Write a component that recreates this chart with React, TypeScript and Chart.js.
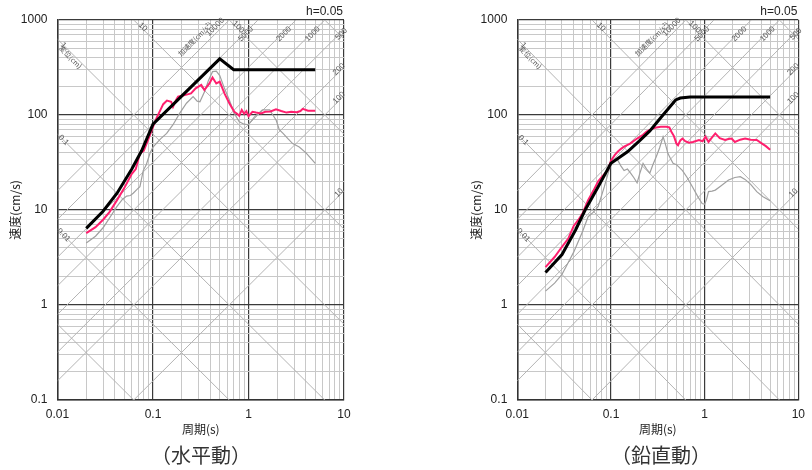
import React, { useEffect, useRef } from 'react';
import { Chart, registerables } from 'chart.js';

Chart.register(...registerables);

// ---- axis ticks ----
const X_DECADES = [0.01, 0.1, 1, 10];
const X_TICK_LABELS = ['0.01', '0.1', '1', '10'];
const Y_DECADES = [0.1, 1, 10, 100, 1000];
const Y_TICK_LABELS = ['0.1', '1', '10', '100', '1000'];

// ---- tripartite guide lines (displacement cm, acceleration cm/s2) ----
const DISP_LINES = [0.001, 0.01, 0.1, 1, 10, 100, 1000];
const ACC_LINES = [10, 100, 200, 500, 1000, 2000, 5000, 10000];
const DISP_LEFT_LABELS = ['1', '0.1', '0.01'];
const DISP_TOP_LABELS = ['10', '100'];
const ACC_TOP_LABELS = ['10000', '5000', '2000', '1000', '500'];
const ACC_RIGHT_LABELS = ['200', '100', '10'];

// ---- 水平動 ----
const H_DESIGN_T = [0.02, 0.03, 0.042, 0.06, 0.076, 0.1, 0.5, 0.7, 5.0];
const H_DESIGN_V = [6.4, 9.7, 15, 27, 42, 80, 390, 300, 300];

const H_OBS_T = [0.02, 0.025, 0.03, 0.035, 0.042, 0.05, 0.06, 0.066, 0.073, 0.08, 0.089, 0.1, 0.11, 0.118, 0.128, 0.14, 0.155, 0.162, 0.175, 0.183, 0.215, 0.25, 0.28, 0.32, 0.345, 0.39, 0.42, 0.46, 0.5, 0.56, 0.63, 0.71, 0.76, 0.8, 0.85, 0.9, 0.95, 1.0, 1.1, 1.2, 1.35, 1.5, 1.7, 1.94, 2.2, 2.5, 2.8, 3.2, 3.5, 3.7, 4.2, 5.0];
const H_OBS_V = [5.7, 6.6, 7.9, 9.5, 12.7, 17, 24, 27, 39.5, 42, 55, 75, 95, 110, 130, 142, 138, 122, 145, 156, 162, 169, 191, 207, 183, 215, 248, 215, 224, 169, 133, 108, 103, 98, 113, 103, 110, 97, 108, 106, 104, 108, 109, 115, 110, 106, 108, 107, 110, 116, 111, 111];

const H_GRAY_T = [0.02, 0.025, 0.03, 0.035, 0.042, 0.048, 0.053, 0.058, 0.062, 0.068, 0.073, 0.079, 0.085, 0.093, 0.1, 0.108, 0.12, 0.139, 0.162, 0.19, 0.224, 0.263, 0.29, 0.31, 0.35, 0.38, 0.42, 0.46, 0.5, 0.55, 0.63, 0.71, 0.8, 0.9, 1.0, 1.15, 1.4, 1.67, 1.8, 1.95, 2.1, 2.3, 2.6, 2.9, 3.4, 4.0, 4.5, 5.0];
const H_GRAY_V = [4.5, 5.3, 6.5, 8.2, 10.9, 13, 14, 14.2, 15, 16.5, 17.6, 26, 30, 39.5, 46, 50, 56, 64, 79, 104, 133, 156, 140, 138, 180, 230, 286, 290, 260, 200, 144, 104, 85, 80, 79, 95, 113, 113, 100, 88, 70, 64, 56, 50, 46, 40, 35, 31];

// ---- 鉛直動 ----
const V_DESIGN_T = [0.02, 0.03, 0.042, 0.053, 0.073, 0.1, 0.15, 0.2, 0.26, 0.35, 0.49, 0.55, 0.7, 5.0];
const V_DESIGN_V = [2.2, 3.4, 6.2, 10, 17.6, 31, 41, 53, 68, 97, 144, 151, 155, 155];

const V_OBS_T = [0.02, 0.025, 0.03, 0.035, 0.04, 0.045, 0.05, 0.057, 0.065, 0.073, 0.082, 0.092, 0.1, 0.11, 0.118, 0.128, 0.138, 0.16, 0.19, 0.22, 0.24, 0.27, 0.305, 0.34, 0.39, 0.42, 0.44, 0.47, 0.5, 0.52, 0.55, 0.58, 0.62, 0.68, 0.75, 0.87, 0.95, 1.02, 1.1, 1.2, 1.3, 1.45, 1.65, 1.8, 1.94, 2.1, 2.4, 2.7, 3.1, 3.6, 4.1, 4.5, 5.0];
const V_OBS_V = [2.5, 3.2, 4.1, 5.0, 6.8, 7.9, 9.3, 12.7, 16, 20, 23, 26, 33, 38, 41, 44, 46.5, 50, 56.5, 62, 67, 71, 74, 75, 75, 74, 67, 60, 50, 48, 54, 56.5, 53, 51, 52, 54.6, 53, 59, 52, 58, 64, 57, 54.6, 56, 56.5, 52, 55, 56.5, 55, 54.6, 50, 47, 43];

const V_GRAY_T = [0.02, 0.025, 0.03, 0.035, 0.04, 0.05, 0.057, 0.065, 0.073, 0.085, 0.1, 0.11, 0.118, 0.128, 0.138, 0.15, 0.162, 0.175, 0.19, 0.205, 0.22, 0.24, 0.26, 0.28, 0.305, 0.33, 0.36, 0.38, 0.405, 0.43, 0.46, 0.5, 0.58, 0.65, 0.74, 0.84, 0.94, 1.0, 1.05, 1.1, 1.2, 1.3, 1.5, 1.8, 2.1, 2.4, 2.7, 3.1, 3.6, 4.2, 5.0];
const V_GRAY_V = [1.4, 1.7, 2.1, 2.8, 3.6, 6, 8.5, 9.5, 10.9, 17.6, 31, 34, 33.5, 29, 26, 27, 24.5, 22, 19.3, 25, 31, 27, 24.5, 30, 36.5, 45, 59, 50, 39.5, 35, 31, 30, 26, 22, 17.6, 14, 11.7, 11.5, 13, 15.6, 15.8, 16.2, 18, 20.7, 22, 22.4, 21, 18.6, 15.6, 13.8, 12.5];

const NUM_FONT = '"Liberation Sans", Arial, sans-serif';
const CJK_FONT = '"Noto Sans CJK JP", "Noto Sans", sans-serif';
const TWO_PI = 2 * Math.PI;

const isDecade = (v: number) => {
  const l = Math.log10(v);
  return Math.abs(l - Math.round(l)) < 1e-6;
};

const gridValues = (decades: number[]) => {
  const out: number[] = [];
  for (let i = 0; i < decades.length - 1; i++) {
    for (let m = 1; m <= 9; m++) out.push(Number((decades[i] * m).toPrecision(6)));
  }
  out.push(decades[decades.length - 1]);
  return out;
};

const labelFor = (decades: number[], labels: string[], v: number) => {
  const i = decades.findIndex((d) => Math.abs(d - v) / d < 1e-6);
  return i >= 0 ? labels[i] : '';
};

const toPts = (ts: number[], vs: number[]) => ts.map((t, i) => ({ x: t, y: vs[i] }));

const tripartitePlugin = {
  id: 'tripartite',
  beforeDatasetsDraw(chart: any) {
    const { ctx, chartArea: a, scales } = chart;
    const x = scales.x;
    const y = scales.y;
    const tMin = x.min;
    const tMax = x.max;
    ctx.save();
    ctx.beginPath();
    ctx.rect(a.left, a.top, a.right - a.left, a.bottom - a.top);
    ctx.clip();
    ctx.strokeStyle = '#b4b4b4';
    ctx.lineWidth = 1;
    DISP_LINES.forEach((D) => {
      ctx.beginPath();
      ctx.moveTo(x.getPixelForValue(tMin), y.getPixelForValue((TWO_PI * D) / tMin));
      ctx.lineTo(x.getPixelForValue(tMax), y.getPixelForValue((TWO_PI * D) / tMax));
      ctx.stroke();
    });
    ACC_LINES.forEach((A) => {
      ctx.beginPath();
      ctx.moveTo(x.getPixelForValue(tMin), y.getPixelForValue((A * tMin) / TWO_PI));
      ctx.lineTo(x.getPixelForValue(tMax), y.getPixelForValue((A * tMax) / TWO_PI));
      ctx.stroke();
    });
    ctx.restore();

    ctx.save();
    ctx.fillStyle = '#555';
    ctx.textAlign = 'center';
    ctx.textBaseline = 'middle';
    const put = (text: string, px: number, py: number, ang: number, font: string) => {
      ctx.save();
      ctx.translate(px, py);
      ctx.rotate(ang);
      ctx.font = font;
      ctx.fillText(text, 0, 0);
      ctx.restore();
    };
    const small = '8px ' + NUM_FONT;
    const smallCjk = '7px ' + CJK_FONT;
    // displacement labels on the left edge
    DISP_LEFT_LABELS.forEach((s) => {
      const D = parseFloat(s);
      const px = a.left + 6;
      const T = x.getValueForPixel(px);
      put(s, px, y.getPixelForValue((TWO_PI * D) / T), Math.PI / 4, small);
    });
    {
      const px = a.left + 13;
      const T = x.getValueForPixel(px);
      put('変位(cm)', px, y.getPixelForValue(TWO_PI / T) + 5, Math.PI / 4, smallCjk);
    }
    // displacement labels on the top edge
    DISP_TOP_LABELS.forEach((s) => {
      const D = parseFloat(s);
      const py = a.top + 7;
      const V = y.getValueForPixel(py);
      put(s, x.getPixelForValue((TWO_PI * D) / V) + 2, py, Math.PI / 4, small);
    });
    // acceleration labels on the top edge
    ACC_TOP_LABELS.forEach((s) => {
      const A = parseFloat(s);
      const first = s === ACC_TOP_LABELS[0];
      const py = a.top + (first ? 7 : 14);
      const V = y.getValueForPixel(py);
      put(s, x.getPixelForValue((TWO_PI * V) / A) + (first ? -7 : 2), py, -Math.PI / 4, small);
    });
    {
      const A = parseFloat(ACC_TOP_LABELS[0]);
      const py = a.top + 19;
      const V = y.getValueForPixel(py);
      put('加速度(cm/s²)', x.getPixelForValue((TWO_PI * V) / A) - 15, py, -Math.PI / 4, smallCjk);
    }
    // acceleration labels on the right edge
    ACC_RIGHT_LABELS.forEach((s) => {
      const A = parseFloat(s);
      const px = a.right - 5;
      const T = x.getValueForPixel(px);
      put(s, px, y.getPixelForValue((A * T) / TWO_PI) - 3, -Math.PI / 4, small);
    });
    ctx.restore();
  },
  afterDraw(chart: any) {
    const { ctx, chartArea: a } = chart;
    ctx.save();
    ctx.fillStyle = '#222';
    ctx.font = '12px ' + NUM_FONT;
    ctx.textAlign = 'right';
    ctx.textBaseline = 'middle';
    ctx.fillText('h=0.05', a.right - 1, a.top - 8);
    ctx.restore();
  },
};

type SpecProps = {
  left: number;
  width: number;
  padLeft: number;
  padRight: number;
  designT: number[];
  designV: number[];
  obsT: number[];
  obsV: number[];
  grayT: number[];
  grayV: number[];
};

function SpectrumChart(p: SpecProps) {
  const ref = useRef<HTMLCanvasElement>(null);
  useEffect(() => {
    const xGrid = gridValues(X_DECADES);
    const yGrid = gridValues(Y_DECADES);
    const gridColor = (c: any) => (c.tick && isDecade(c.tick.value) ? '#3a3a3a' : '#c8c8c8');
    const gridWidth = (c: any) => (c.tick && isDecade(c.tick.value) ? 1.2 : 1);
    const chart = new Chart(ref.current as HTMLCanvasElement, {
      type: 'line',
      data: {
        datasets: [
          { label: 'design', data: toPts(p.designT, p.designV), borderColor: '#000', borderWidth: 3, pointRadius: 0, tension: 0, order: 0 },
          { label: 'obs', data: toPts(p.obsT, p.obsV), borderColor: '#ff1f6e', borderWidth: 2, pointRadius: 0, tension: 0, order: 1 },
          { label: 'gray', data: toPts(p.grayT, p.grayV), borderColor: '#a0a0a0', borderWidth: 1.2, pointRadius: 0, tension: 0, order: 2 },
        ],
      },
      options: {
        responsive: false,
        animation: false,
        devicePixelRatio: 1,
        layout: { padding: { left: p.padLeft, right: p.padRight, top: 20, bottom: 33 } },
        plugins: { legend: { display: false }, tooltip: { enabled: false }, title: { display: false } },
        scales: {
          x: {
            type: 'logarithmic',
            min: 0.01,
            max: 10,
            afterBuildTicks: (s: any) => {
              s.ticks = xGrid.map((v) => ({ value: v, major: isDecade(v) }));
            },
            afterFit: (s: any) => {
              s.height = 37;
            },
            grid: { color: gridColor, lineWidth: gridWidth, drawTicks: false },
            border: { display: true, color: '#333', width: 1.5 },
            ticks: {
              autoSkip: false,
              maxRotation: 0,
              padding: 7,
              color: '#222',
              font: { family: NUM_FONT, size: 12 },
              callback: (v: any) => labelFor(X_DECADES, X_TICK_LABELS, Number(v)),
            },
            title: { display: true, text: '周期(s)', color: '#222', font: { family: CJK_FONT, size: 12 }, padding: 0 },
          },
          y: {
            type: 'logarithmic',
            min: 0.1,
            max: 1000,
            afterBuildTicks: (s: any) => {
              s.ticks = yGrid.map((v) => ({ value: v, major: isDecade(v) }));
            },
            afterFit: (s: any) => {
              s.width = p.left === 0 ? 57.5 : 56.3;
            },
            grid: { color: gridColor, lineWidth: gridWidth, drawTicks: false },
            border: { display: true, color: '#333', width: 1.5 },
            ticks: {
              autoSkip: false,
              padding: 10,
              color: '#222',
              font: { family: NUM_FONT, size: 12 },
              callback: (v: any) => labelFor(Y_DECADES, Y_TICK_LABELS, Number(v)),
            },
            title: { display: true, text: '速度(cm/s)', color: '#222', font: { family: CJK_FONT, size: 12 }, padding: { top: 8, bottom: 0 } },
          },
        },
      } as any,
      plugins: [tripartitePlugin],
    } as any);
    return () => chart.destroy();
  }, []);
  return (
    <canvas
      ref={ref}
      width={p.width}
      height={470}
      style={{ position: 'absolute', left: p.left, top: 0, width: p.width, height: 470 }}
    />
  );
}

const captionStyle = (center: number): React.CSSProperties => ({
  position: 'absolute',
  left: center - 100,
  width: 200,
  top: 443,
  height: 24,
  lineHeight: '24px',
  textAlign: 'center',
  fontFamily: CJK_FONT,
  fontSize: 20,
  color: '#333',
});

export default function App() {
  return (
    <div style={{ position: 'absolute', left: 0, top: 0, width: 812, height: 470, background: '#fff', overflow: 'hidden' }}>
      <SpectrumChart
        left={0}
        width={360}
        padLeft={0}
        padRight={16}
        designT={H_DESIGN_T}
        designV={H_DESIGN_V}
        obsT={H_OBS_T}
        obsV={H_OBS_V}
        grayT={H_GRAY_T}
        grayV={H_GRAY_V}
      />
      <SpectrumChart
        left={420}
        width={392}
        padLeft={41}
        padRight={7}
        designT={V_DESIGN_T}
        designV={V_DESIGN_V}
        obsT={V_OBS_T}
        obsV={V_OBS_V}
        grayT={V_GRAY_T}
        grayV={V_GRAY_V}
      />
      <div style={captionStyle(201)}>（水平動）</div>
      <div style={captionStyle(661)}>（鉛直動）</div>
    </div>
  );
}
